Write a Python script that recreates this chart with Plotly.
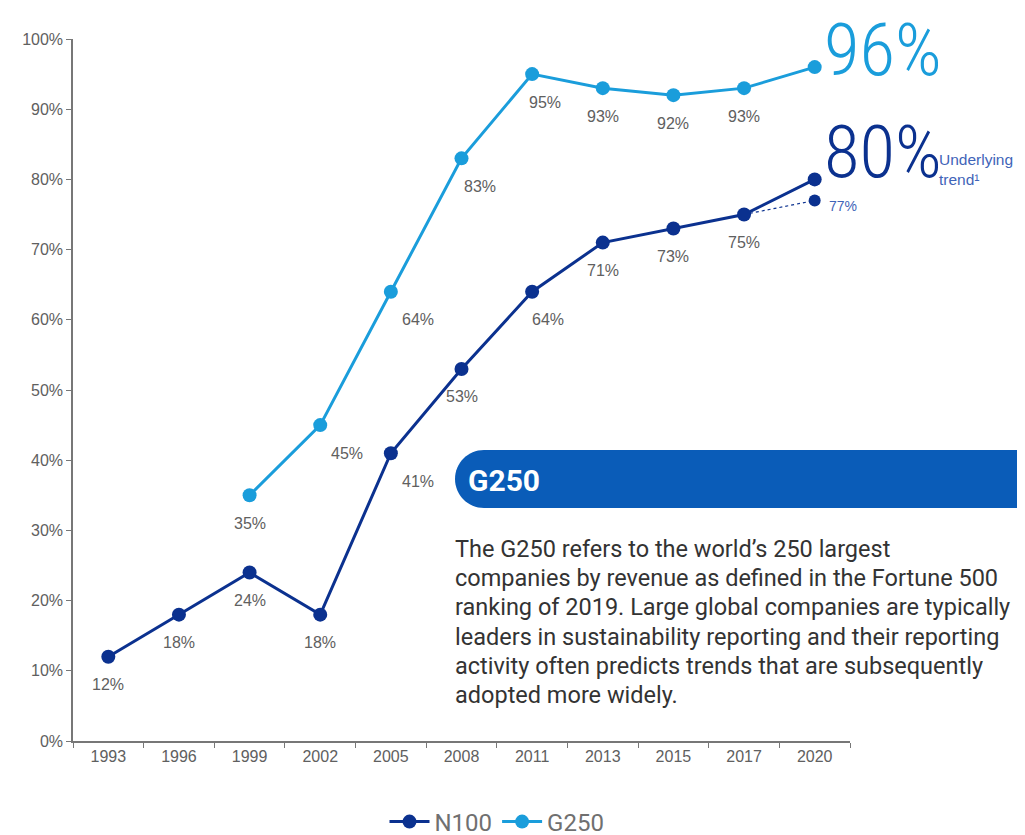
import plotly.graph_objects as go

years = ['1993', '1996', '1999', '2002', '2005', '2008', '2011', '2013', '2015', '2017', '2020']
n100 = [12, 18, 24, 18, 41, 53, 64, 71, 73, 75, 80]
g250 = [None, None, 35, 45, 64, 83, 95, 93, 92, 93, 96]
trend_years = ['2017', '2020']
trend_vals = [75, 77]

# label horizontal nudges (style only)
n100_dx = [0, 0, 0, 0, 27, 0, 16, 0, 0, 0, None]
g250_dx = [None, None, 0, 27, 27, 18, 13, 0, 0, 0, None]

para_lines = [
    "The G250 refers to the world\u2019s 250 largest",
    "companies by revenue as defined in the Fortune 500",
    "ranking of 2019. Large global companies are typically",
    "leaders in sustainability reporting and their reporting",
    "activity often predicts trends that are subsequently",
    "adopted more widely.",
]

NAVY = "#0b318f"
LIGHT = "#1a9ddb"
BOX = "#0a5cb8"
GREY = "#606060"

W, H = 1025, 835
OX, OY = 8, 8  # page body margin offset
L, R, T, B = 65, 183, 31, 102
PW, PH = W - L - R, H - T - B


def px(x):
    """screen pixel x -> paper x"""
    return (x - OX - L) / PW


def py(y):
    """screen pixel y -> paper y"""
    return (H - B - (y - OY)) / PH


fig = go.Figure()

fig.add_trace(go.Scatter(
    x=trend_years, y=trend_vals, mode="lines",
    line=dict(color=NAVY, width=1.2, dash="dot"),
    showlegend=False, hoverinfo="skip", cliponaxis=False))
fig.add_trace(go.Scatter(
    x=trend_years[-1:], y=trend_vals[-1:], mode="markers",
    marker=dict(size=12, color=NAVY, opacity=1),
    showlegend=False, cliponaxis=False))

fig.add_trace(go.Scatter(
    x=years, y=n100, name="N100", mode="lines+markers",
    line=dict(color=NAVY, width=3), marker=dict(size=14, color=NAVY),
    cliponaxis=False))

fig.add_trace(go.Scatter(
    x=years, y=g250, name="G250", mode="lines+markers",
    line=dict(color=LIGHT, width=3), marker=dict(size=14, color=LIGHT),
    cliponaxis=False))

label_font = dict(family="Liberation Sans, Arial, sans-serif", size=16, color=GREY)
for i, (v, dx) in enumerate(zip(n100, n100_dx)):
    if dx is None:
        continue
    fig.add_annotation(x=i, y=v, text=f"{v}%", showarrow=False,
                       xshift=dx, yshift=-28, font=label_font)
for i, (v, dx) in enumerate(zip(g250, g250_dx)):
    if dx is None or v is None:
        continue
    fig.add_annotation(x=i, y=v, text=f"{v}%", showarrow=False,
                       xshift=dx, yshift=-28, font=label_font)

# trend label
fig.add_annotation(x=len(years) - 1, y=trend_vals[-1], text=f"{trend_vals[-1]}%",
                   showarrow=False, xanchor="left", xshift=12, yshift=-6,
                   font=dict(family="Liberation Sans, Arial, sans-serif", size=14,
                             color="#3f64b8"))

big_font = "Liberation Sans Narrow, Roboto Condensed, Liberation Sans, sans-serif"
fig.add_annotation(x=px(823), y=py(50), xref="paper", yref="paper",
                   text=f"{g250[-1]}%", showarrow=False, xanchor="left",
                   yanchor="middle", borderpad=0,
                   font=dict(family=big_font, size=73, color=LIGHT, weight=300))
fig.add_annotation(x=px(823), y=py(152), xref="paper", yref="paper",
                   text=f"{n100[-1]}%", showarrow=False, xanchor="left",
                   yanchor="middle", borderpad=0,
                   font=dict(family=big_font, size=73, color=NAVY, weight=300))
fig.add_annotation(x=px(938), y=py(170), xref="paper", yref="paper",
                   text="Underlying<br>trend\u00b9", showarrow=False, xanchor="left",
                   yanchor="middle", align="left", borderpad=0,
                   font=dict(family="Liberation Sans, Arial, sans-serif", size=15.5,
                             color="#3f64b8"))

# G250 rounded box
x0, x1, y0, y1 = 455, 1060, 450, 508
r = (y1 - y0) / 2
k = 0.5523 * r
path = (
    f"M {px(x0 + r)} {py(y0)} L {px(x1)} {py(y0)} L {px(x1)} {py(y1)} "
    f"L {px(x0 + r)} {py(y1)} "
    f"C {px(x0 + r - k)} {py(y1)} {px(x0)} {py(y0 + r + k)} {px(x0)} {py(y0 + r)} "
    f"C {px(x0)} {py(y0 + r - k)} {px(x0 + r - k)} {py(y0)} {px(x0 + r)} {py(y0)} Z"
)
fig.add_shape(type="path", path=path, xref="paper", yref="paper",
              fillcolor=BOX, line=dict(width=0), layer="above")
fig.add_annotation(x=px(466), y=py(480), xref="paper", yref="paper",
                   text="<b>G250</b>", showarrow=False, xanchor="left",
                   yanchor="middle",
                   font=dict(family="Roboto, Liberation Sans, sans-serif", size=30,
                             color="white"))

for i, line in enumerate(para_lines):
    fig.add_annotation(x=px(453), y=py(549 + i * 29.2), xref="paper", yref="paper",
                       text=line, showarrow=False, xanchor="left", yanchor="middle",
                       font=dict(family="Roboto, Liberation Sans, sans-serif", size=23.5,
                                 color="#333333"))

fig.update_layout(
    width=W, height=H,
    margin=dict(l=L, r=R, t=T, b=B, autoexpand=False),
    paper_bgcolor="white", plot_bgcolor="white",
    showlegend=True,
    legend=dict(orientation="h", x=px(497), xanchor="center", y=py(822),
                yanchor="middle",
                font=dict(family="Roboto, Liberation Sans, sans-serif", size=24,
                          color="#707070"),
                itemwidth=40),
    font=dict(family="Liberation Sans, Arial, sans-serif"),
)

fig.update_xaxes(type="category", categoryorder="array", categoryarray=years,
                 range=[-0.5, len(years) - 0.5], showgrid=False,
                 showline=True, linecolor="#777777", linewidth=1.5,
                 ticks="outside", tickson="boundaries", ticklen=5,
                 tickcolor="#777777",
                 tickfont=dict(size=16, color=GREY))
fig.update_yaxes(range=[0, 100], dtick=10, ticksuffix="%", showgrid=False,
                 zeroline=False, showline=True, linecolor="#777777", linewidth=1.5,
                 ticks="outside", ticklen=5, tickcolor="#777777",
                 tickfont=dict(size=16, color=GREY))

fig.write_html("out.html")
